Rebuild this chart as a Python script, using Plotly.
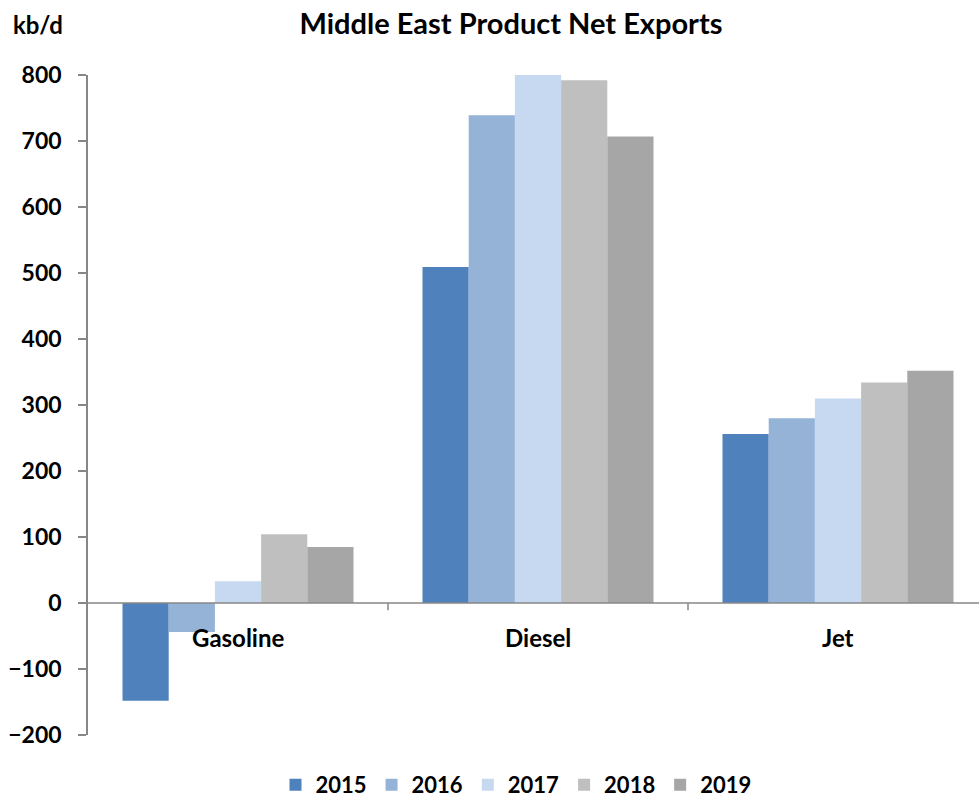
import plotly.graph_objects as go

# Product categories and yearly net exports (kb/d)
products = ["Gasoline", "Diesel", "Jet"]
years = ["2015", "2016", "2017", "2018", "2019"]
exports_2015 = [-148, 509, 256]
exports_2016 = [-44, 739, 280]
exports_2017 = [33, 801, 310]
exports_2018 = [104, 792, 334]
exports_2019 = [85, 707, 352]
series = [exports_2015, exports_2016, exports_2017, exports_2018, exports_2019]
colors = ["#4F81BD", "#95B3D7", "#C6D9F1", "#BFBFBF", "#A6A6A6"]
y_ticks = [-200, -100, 0, 100, 200, 300, 400, 500, 600, 700, 800]

FONT = "Lato"
AXIS_GREY = "#878787"

fig = go.Figure()
for year, vals, col in zip(years, series, colors):
    fig.add_trace(go.Bar(
        name=year, x=list(range(len(products))), y=vals,
        marker=dict(color=col, line=dict(width=0)),
    ))

# category labels sit just under the zero line
annotations = [
    dict(x=i, y=0, xref="x", yref="y", text=p, showarrow=False,
         yshift=-34, font=dict(family=FONT, size=24, color="black", weight="bold"))
    for i, p in enumerate(products)
]
annotations.append(dict(
    x=-77 / 891, y=1.077, xref="paper", yref="paper", text="kb/d",
    showarrow=False, xanchor="left", yanchor="middle",
    font=dict(family=FONT, size=24, color="black", weight="bold"),
))

# zero line acting as the category axis, with boundary ticks
shapes = [dict(type="line", xref="paper", yref="y", x0=0, x1=1, y0=0, y1=0,
               line=dict(color=AXIS_GREY, width=1.5), layer="above")]
for b in [0.5, 1.5]:
    shapes.append(dict(type="line", xref="x", yref="y", x0=b, x1=b, y0=0, y1=-11,
                       line=dict(color=AXIS_GREY, width=1.5)))

fig.update_layout(
    width=979, height=799,
    margin=dict(l=88, r=0, t=75, b=64, autoexpand=False),
    paper_bgcolor="white", plot_bgcolor="white",
    barmode="group", bargap=0.23, bargroupgap=0,
    font=dict(family=FONT, color="black"),
    title=dict(text="Middle East Product Net Exports", x=511 / 979, xanchor="center",
               y=1 - 24 / 799, yanchor="middle",
               font=dict(family=FONT, size=29, color="black", weight="bold")),
    xaxis=dict(range=[-0.5, -0.5 + 891 / 300], showticklabels=False, showgrid=False,
               zeroline=False, showline=False, ticks=""),
    yaxis=dict(range=[-200, 800], tickvals=y_ticks, showgrid=False, zeroline=False,
               showline=True, linecolor=AXIS_GREY, linewidth=1.5,
               ticks="outside", ticklen=8, tickcolor=AXIS_GREY, tickwidth=1.5,
               ticklabelstandoff=12,
               tickfont=dict(family=FONT, size=23, color="black", weight="bold")),
    legend=dict(orientation="h", x=516 / 979, xanchor="center", xref="container",
                y=1 - 785 / 799, yanchor="middle", yref="container",
                font=dict(family=FONT, size=22, color="black", weight="bold"),
                itemwidth=30, traceorder="normal"),
    annotations=annotations, shapes=shapes,
)

fig.write_html("out.html")
